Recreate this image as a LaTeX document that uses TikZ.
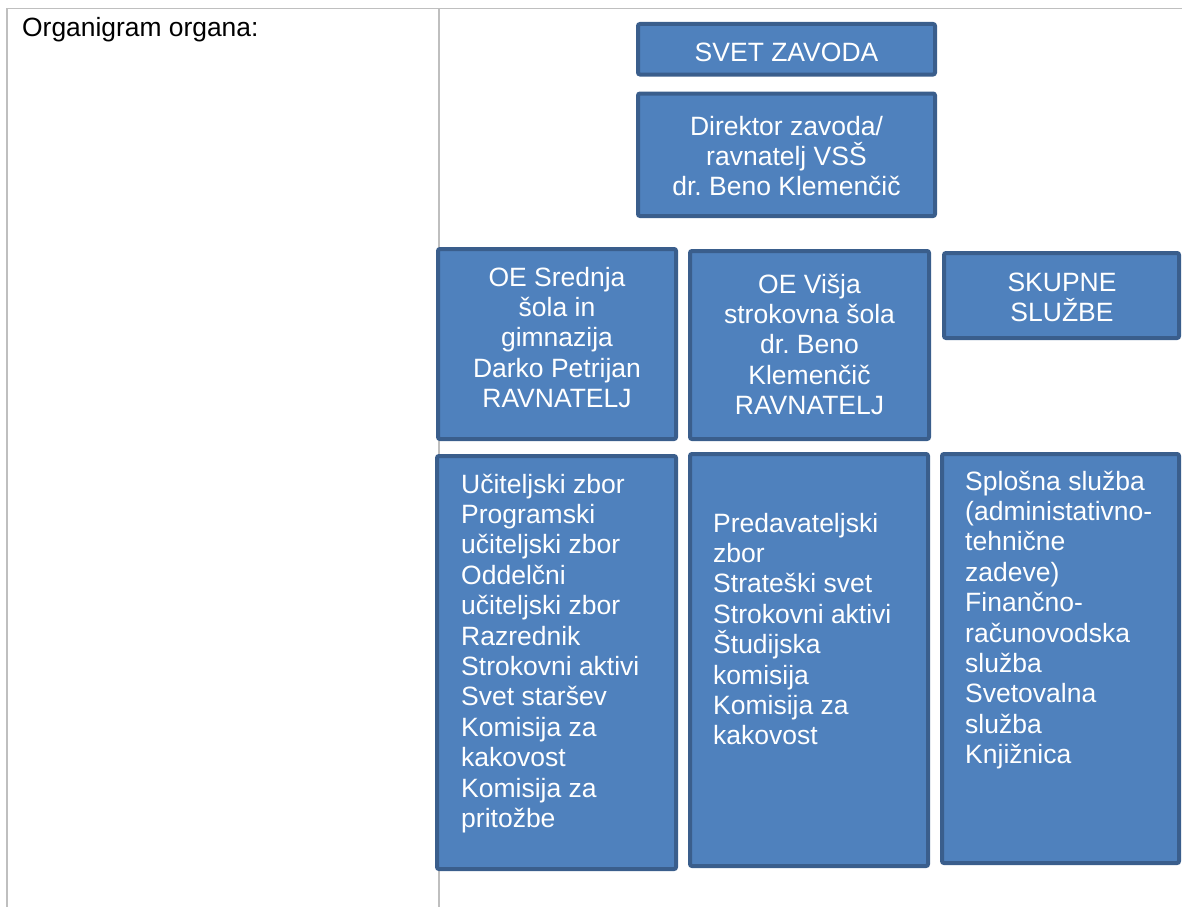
\documentclass[tikz,border=0pt]{standalone}
\usepackage{fontspec}
\setmainfont{Liberation Sans}
\frenchspacing
\definecolor{boxfill}{RGB}{79,129,189}
\definecolor{boxedge}{RGB}{58,94,140}
\definecolor{rulegray}{RGB}{191,191,191}
\tikzset{
  orgbox/.style={draw=boxedge, fill=boxfill, line width=4pt, rounded corners=2pt, inner sep=0pt, rectangle},
  boxtext/.style={text=white, inner sep=0pt, font=\fontsize{26.5}{30.4}\selectfont},
  tabline/.style={draw=rulegray, line width=1.6pt}
}
\begin{document}
\begin{tikzpicture}[x=1pt,y=-1pt]
\useasboundingbox (0,0) rectangle (1182,907);
% table rules
\coordinate (tl) at (7,8.5);
\coordinate (tr) at (1182,8.5);
\coordinate (bl) at (7,907);
\coordinate (tm) at (439,8.5);
\coordinate (bm) at (439,907);
\draw[tabline] (tr) -- (tl) -- (bl);
\draw[tabline] (tm) -- (bm);
\node[anchor=base west, inner sep=0pt, font=\fontsize{26.4}{30.4}\selectfont] (title) at (22,37) {Organigram organa:};
% boxes
\node[orgbox, minimum width=297pt, minimum height=50.5pt] (svet) at (786.5,49.25) {};
\node[orgbox, minimum width=297pt, minimum height=122.5pt] (dir) at (786.5,154.75) {};
\node[orgbox, minimum width=238pt, minimum height=190pt] (sred) at (557,344) {};
\node[orgbox, minimum width=239pt, minimum height=188pt] (visja) at (809.5,345) {};
\node[orgbox, minimum width=235pt, minimum height=85pt] (skup) at (1061.5,295.5) {};
\node[orgbox, minimum width=239pt, minimum height=413pt] (uc) at (556.5,662.5) {};
\node[orgbox, minimum width=238pt, minimum height=412pt] (pred) at (809,660) {};
\node[orgbox, minimum width=237pt, minimum height=409pt] (splo) at (1060.5,658.5) {};
% texts (base anchor = baseline of last line)
\node[boxtext, anchor=base] (svett) at (786.5,62) {SVET ZAVODA};
\node[boxtext, anchor=base, align=center] (dirt) at (786.5,195.8) {Direktor zavoda/\\ravnatelj VSŠ\\dr. Beno Klemenčič};
\node[boxtext, anchor=base, align=center] (sredt) at (557,407.6) {OE Srednja\\šola in\\gimnazija\\Darko Petrijan\\RAVNATELJ};
\node[boxtext, anchor=base, align=center] (visjat) at (809.5,414.6) {OE Višja\\strokovna šola\\dr. Beno\\Klemenčič\\RAVNATELJ};
\node[boxtext, anchor=base, align=center] (skupt) at (1062,321.4) {SKUPNE\\SLUŽBE};
\node[boxtext, anchor=base west, align=left] (uct) at (461,827.4) {Učiteljski zbor\\Programski\\učiteljski zbor\\Oddelčni\\učiteljski zbor\\Razrednik\\Strokovni aktivi\\Svet staršev\\Komisija za\\kakovost\\Komisija za\\pritožbe};
\node[boxtext, anchor=base west, align=left] (predt) at (713,744.8) {Predavateljski\\zbor\\Strateški svet\\Strokovni aktivi\\Študijska\\komisija\\Komisija za\\kakovost};
\node[boxtext, anchor=base west, align=left] (splot) at (965,763.6) {Splošna služba\\(administativno-\\tehnične\\zadeve)\\Finančno-\\računovodska\\služba\\Svetovalna\\služba\\Knjižnica};
\end{tikzpicture}
\end{document}
